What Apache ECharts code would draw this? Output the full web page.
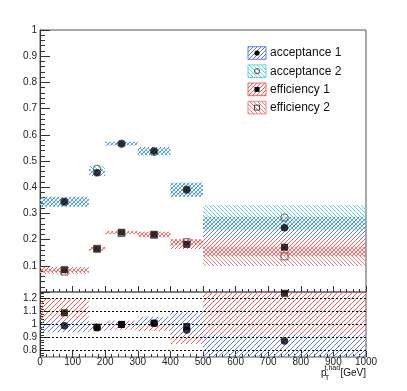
<!DOCTYPE html>
<html>
<head>
<meta charset="utf-8">
<script src="https://cdn.jsdelivr.net/npm/echarts@6/dist/echarts.min.js"></script>
<style>
  html, body { margin: 0; padding: 0; background: #fff; }
  #chart { width: 407px; height: 391px; }
</style>
</head>
<body>
<div id="chart"></div>
<script>
// bins in pT (GeV)
var binLo = [0, 150, 200, 300, 400, 500];
var binHi = [150, 200, 300, 400, 500, 1000];
var binMid = [75, 175, 250, 350, 450, 750];

// top pad: acceptance and efficiency
var acc1 = [0.345, 0.455, 0.566, 0.538, 0.391, 0.245];
var acc1Err = [0.019, 0.013, 0.007, 0.015, 0.027, 0.042];
var acc2 = [0.343, 0.470, 0.566, 0.535, 0.390, 0.284];
var acc2Err = [0.019, 0.013, 0.007, 0.015, 0.027, 0.048];
var eff1 = [0.085, 0.165, 0.228, 0.220, 0.182, 0.171];
var eff1Err = [0.010, 0.007, 0.006, 0.010, 0.019, 0.035];
var eff2 = [0.078, 0.165, 0.225, 0.218, 0.190, 0.136];
var eff2Err = [0.010, 0.007, 0.006, 0.010, 0.012, 0.037];

// bottom pad: ratios
var ratioAcc = [0.990, 0.975, 1.000, 1.010, 0.958, 0.873];
var ratioAccLo = [0.94, 0.96, 0.98, 0.99, 0.92, 0.70];
var ratioAccHi = [1.03, 1.00, 1.02, 1.06, 1.095, 0.92];
var ratioEff = [1.090, 0.980, 1.000, 1.010, 0.985, 1.240];
var ratioEffLo = [0.99, 0.95, 0.96, 0.95, 0.85, 0.86];
var ratioEffHi = [1.20, 1.01, 1.03, 1.03, 1.08, 1.40];

var ratioTicks = [0.8, 0.9, 1, 1.1, 1.2];
var legendNames = ['acceptance 1', 'acceptance 2', 'efficiency 1', 'efficiency 2'];

var FONT = 'Liberation Sans';
var AXIS = '#333';

// hatch patterns
function hatch(color, dir, size) {
  var c = document.createElement('canvas');
  c.width = size; c.height = size;
  var g = c.getContext('2d');
  g.strokeStyle = color;
  g.lineWidth = 1;
  g.beginPath();
  for (var k = -1; k <= 1; k++) {
    if (dir === '/') {
      g.moveTo(k * size, size); g.lineTo(k * size + size, 0);
    } else {
      g.moveTo(k * size, 0); g.lineTo(k * size + size, size);
    }
  }
  g.stroke();
  return { image: c, repeat: 'repeat' };
}

var blueC = '#5f7cf2', cyanC = '#5ed6d6', redC = '#ff5a5a', pinkC = '#ff7f7f';
var pAcc1 = hatch(blueC, '/', 4);
var pAcc2 = hatch(cyanC, '\\', 4);
var pEff1 = hatch(redC, '/', 4);
var pEff2 = hatch(pinkC, '\\', 4);
var pRatioEff = hatch(redC, '/', 5);
var pRatioAcc = hatch(blueC, '/', 5);

function bandData(lo, hi) {
  return binLo.map(function (b, i) { return [b, binHi[i], lo[i], hi[i]]; });
}
function errBand(val, err) {
  return bandData(val.map(function (v, i) { return v - err[i]; }),
                  val.map(function (v, i) { return v + err[i]; }));
}
function points(val) {
  return binMid.map(function (x, i) { return [x, val[i]]; });
}

function bandSeries(data, fill, xi, yi) {
  return {
    type: 'custom', xAxisIndex: xi, yAxisIndex: yi, silent: true, z: 1,
    data: data,
    renderItem: function (params, api) {
      var p0 = api.coord([api.value(0), api.value(3)]);
      var p1 = api.coord([api.value(1), api.value(2)]);
      var cs = params.coordSys;
      var shape = echarts.graphic.clipRectByRect(
        { x: p0[0], y: p0[1], width: p1[0] - p0[0], height: p1[1] - p0[1] },
        { x: cs.x, y: cs.y, width: cs.width, height: cs.height });
      if (!shape) return null;
      return { type: 'rect', shape: shape, style: { fill: fill } };
    }
  };
}

function markerSeries(data, symbol, filled, xi, yi) {
  return {
    type: 'scatter', xAxisIndex: xi, yAxisIndex: yi, silent: true, z: 5,
    symbol: symbol, symbolSize: symbol === 'rect' ? 7 : 7.5,
    itemStyle: filled ? { color: '#000' } : { color: 'rgba(0,0,0,0)', borderColor: '#444', borderWidth: 1 },
    data: data
  };
}

var minorRatio = [];
for (var v = 76; v <= 124; v += 2) minorRatio.push(v / 100);

var chart = echarts.init(document.getElementById('chart'), null, { renderer: 'canvas' });

var xBase = {
  type: 'value', min: 0, max: 1000, interval: 100,
  axisLine: { show: false },
  splitLine: { show: false },
  axisTick: { inside: true, length: 6, lineStyle: { color: AXIS } },
  minorTick: { show: true, splitNumber: 5, length: 3, lineStyle: { color: AXIS } }
};

var option = {
  animation: false,
  grid: [
    { left: 40, top: 30, width: 326, height: 262, show: true, borderColor: '#555', borderWidth: 1, backgroundColor: 'transparent' },
    { left: 40, top: 292, width: 326, height: 65, show: true, borderColor: '#555', borderWidth: 1, backgroundColor: 'transparent' }
  ],
  xAxis: [
    Object.assign({}, xBase, { gridIndex: 0, axisLabel: { show: false } }),
    Object.assign({}, xBase, {
      gridIndex: 1,
      axisLabel: {
        show: true, margin: 0, fontSize: 10, fontFamily: FONT, color: '#222',
        formatter: function (val) { return String(val); }
      }
    })
  ],
  yAxis: [
    {
      type: 'value', gridIndex: 0, min: 0, max: 1, interval: 0.1,
      axisLine: { show: true, lineStyle: { color: AXIS } },
      splitLine: { show: false },
      axisTick: { inside: true, length: 10, lineStyle: { color: AXIS } },
      minorTick: { show: true, splitNumber: 5, length: 5, lineStyle: { color: AXIS } },
      axisLabel: { showMinLabel: false, margin: 3, fontSize: 10, fontFamily: FONT, color: '#222' }
    },
    {
      type: 'value', gridIndex: 1, min: 0.75, max: 1.25, position: 'left',
      axisLine: { show: true, lineStyle: { color: AXIS } },
      splitLine: { show: false },
      axisTick: { inside: true, length: 8, customValues: ratioTicks, lineStyle: { color: AXIS } },
      axisLabel: { customValues: ratioTicks, margin: 3, fontSize: 10, fontFamily: FONT, color: '#222' }
    },
    {
      type: 'value', gridIndex: 1, min: 0.75, max: 1.25, position: 'left', offset: 0,
      axisLine: { show: false },
      splitLine: { show: false },
      axisTick: { inside: true, length: 4, customValues: minorRatio, lineStyle: { color: AXIS } },
      axisLabel: { show: false }
    }
  ],
  series: [
    bandSeries(errBand(acc1, acc1Err), pAcc1, 0, 0),
    bandSeries(errBand(acc2, acc2Err), pAcc2, 0, 0),
    bandSeries(errBand(eff1, eff1Err), pEff1, 0, 0),
    bandSeries(errBand(eff2, eff2Err), pEff2, 0, 0),
    markerSeries(points(acc1), 'circle', true, 0, 0),
    markerSeries(points(acc2), 'circle', false, 0, 0),
    markerSeries(points(eff1), 'rect', true, 0, 0),
    markerSeries(points(eff2), 'rect', false, 0, 0),

    bandSeries(bandData(ratioEffLo, ratioEffHi), pRatioEff, 1, 1),
    bandSeries(bandData(ratioAccLo, ratioAccHi), pRatioAcc, 1, 1),
    Object.assign(markerSeries(points(ratioAcc), 'circle', true, 1, 1), {
      markLine: {
        silent: true, symbol: ['none', 'none'], label: { show: false },
        lineStyle: { type: [2, 2], color: '#000', width: 1 },
        data: ratioTicks.map(function (t) { return { yAxis: t }; })
      }
    }),
    markerSeries(points(ratioEff), 'rect', true, 1, 1)
  ],
  graphic: []
};

// legend (drawn by hand to get hatched boxes with markers inside)
var legFills = [pAcc1, pAcc2, pEff1, pEff2];
var legBorders = [blueC, cyanC, redC, pinkC];
var legSymbols = ['circle', 'circle', 'rect', 'rect'];
var legFilled = [true, false, true, false];
legendNames.forEach(function (name, i) {
  var cy = 53 + i * 18.2;
  option.graphic.push({
    type: 'rect', shape: { x: 248, y: cy - 6.3, width: 18, height: 12.6 },
    style: { fill: legFills[i], stroke: legBorders[i], lineWidth: 1 }
  });
  var mStyle = legFilled[i] ? { fill: '#000' } : { fill: 'none', stroke: '#444', lineWidth: 1 };
  if (legSymbols[i] === 'circle') {
    option.graphic.push({ type: 'circle', shape: { cx: 257, cy: cy, r: 2.6 }, style: mStyle });
  } else {
    option.graphic.push({ type: 'rect', shape: { x: 254.5, y: cy - 2.5, width: 5, height: 5 }, style: mStyle });
  }
  option.graphic.push({
    type: 'text', x: 270, y: cy,
    style: { text: name, fontSize: 12, fontFamily: FONT, fill: '#111', verticalAlign: 'middle' }
  });
});

// x axis title: p_T^{t,had} [GeV]
option.graphic.push(
  { type: 'text', x: 321, y: 373, style: { text: 'p', fontSize: 10, fontFamily: FONT, fill: '#111', verticalAlign: 'middle' } },
  { type: 'text', x: 324.5, y: 368, style: { text: 't,had', fontSize: 7, fontFamily: FONT, fill: '#111', verticalAlign: 'middle' } },
  { type: 'text', x: 325, y: 378.5, style: { text: 'T', fontSize: 7, fontFamily: FONT, fill: '#111', verticalAlign: 'middle' } },
  { type: 'text', x: 366, y: 373, style: { text: '[GeV]', fontSize: 10, fontFamily: FONT, fill: '#111', align: 'right', verticalAlign: 'middle' } }
);

chart.setOption(option);
</script>
</body>
</html>
